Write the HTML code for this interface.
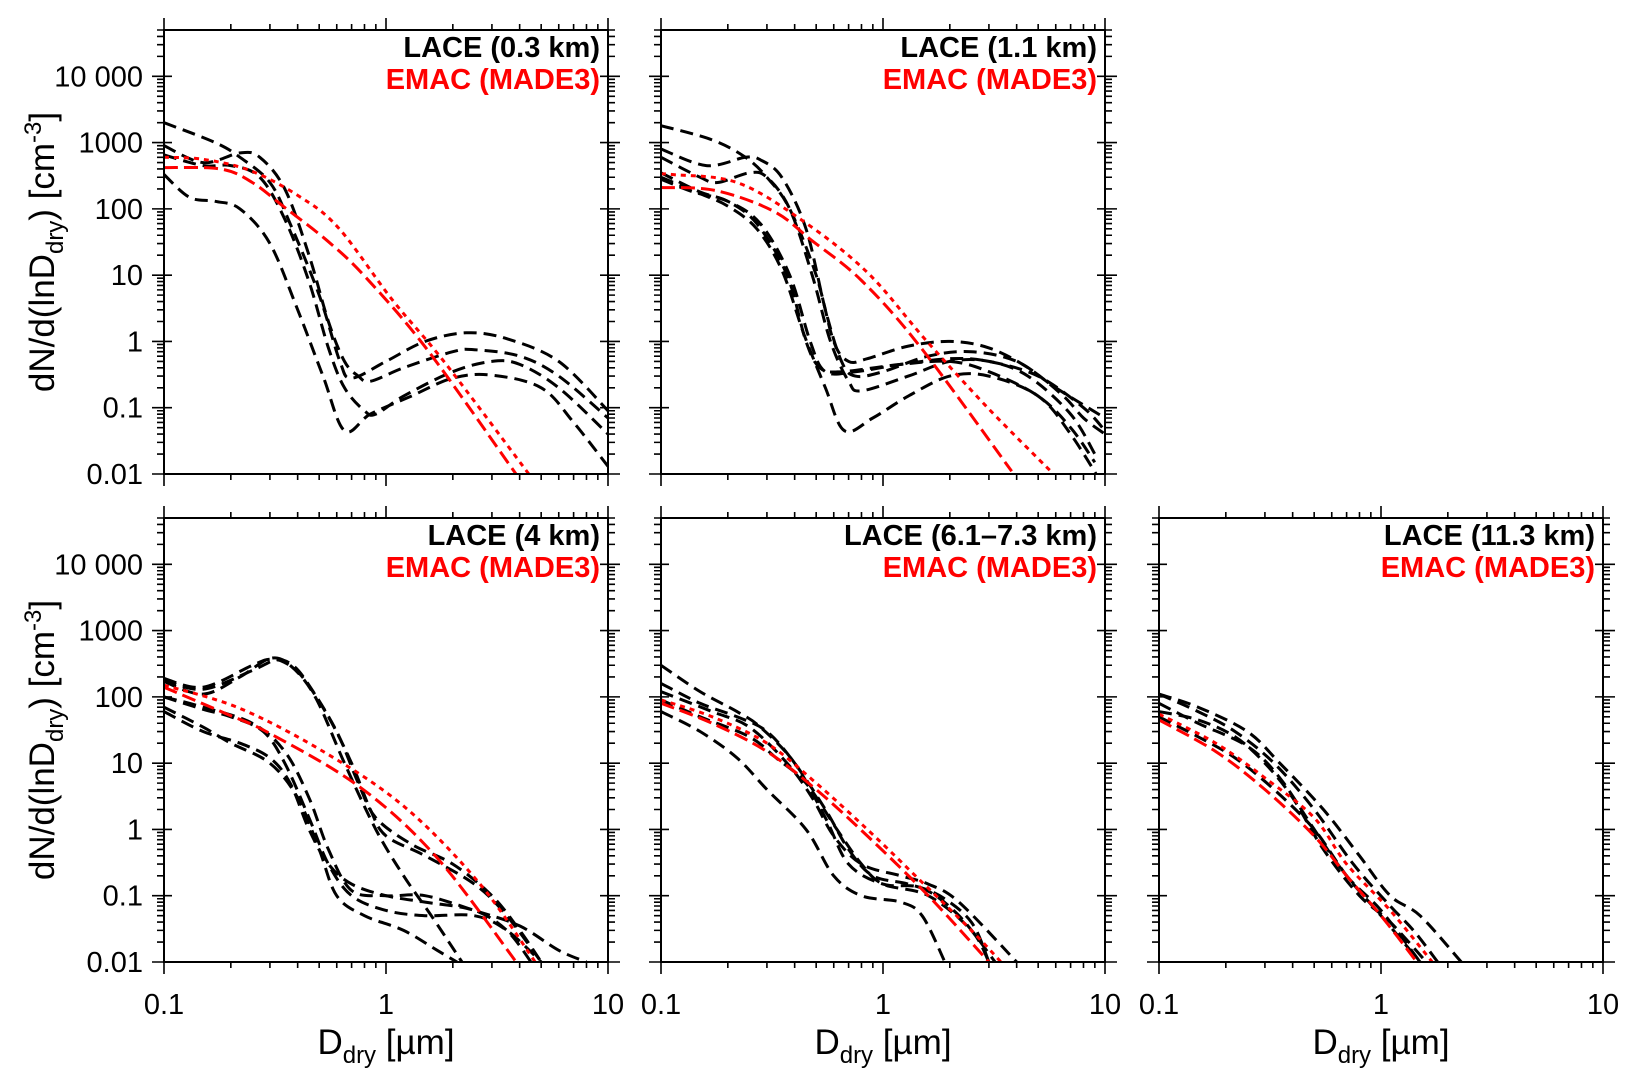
<!DOCTYPE html>
<html><head><meta charset="utf-8"><style>
html,body{margin:0;padding:0;background:#fff;}
svg{display:block;font-family:"Liberation Sans",Arial,sans-serif;}
</style></head><body>
<svg id="chart" width="1637" height="1081" viewBox="0 0 1637 1081" xmlns="http://www.w3.org/2000/svg"></svg>
<script>
// ---- data (diameter in µm, dN/dlnD in cm^-3) ----
const xTicks = [0.1, 1, 10];
const xTickLabels = ["0.1", "1", "10"];
const yTicks = [0.01, 0.1, 1, 10, 100, 1000, 10000];
const yTickLabels = ["0.01", "0.1", "1", "10", "100", "1000", "10 000"];
const panelTitles = ["LACE (0.3 km)", "LACE (1.1 km)", "LACE (4 km)", "LACE (6.1\u20137.3 km)", "LACE (11.3 km)"];

// Panel 1 (0.3 km)
const p1D = [[0.1,0.17,0.22,0.3,0.37,0.5,0.62,0.7,1,1.5,2.3,3.5,6,10],
             [0.1,0.15,0.22,0.27,0.35,0.45,0.55,0.65,0.75,0.85,1.2,2,2.5,4,6,10],
             [0.1,0.15,0.2,0.27,0.35,0.45,0.55,0.65,0.8,0.9,1.2,2,3,4,6,10],
             [0.1,0.13,0.17,0.22,0.3,0.4,0.52,0.65,0.85,1.3,2,3,5,7,10]];
const p1N = [[2000,1000,600,250,60,5,0.5,0.28,0.5,1.0,1.35,1.1,0.5,0.09],
             [900,500,700,600,200,20,2,0.5,0.3,0.25,0.4,0.7,0.75,0.6,0.3,0.07],
             [650,450,450,300,70,8,0.8,0.2,0.09,0.08,0.15,0.35,0.5,0.45,0.2,0.04],
             [330,150,130,100,30,3,0.3,0.045,0.08,0.15,0.28,0.31,0.2,0.06,0.013]];
const p1RedDotD = [0.1,0.15,0.244,0.4,0.61,1.07,1.85,4.4];
const p1RedDotN = [600,560,380,160,52,4.2,0.47,0.01];
const p1RedDashD = [0.1,0.18,0.25,0.35,0.55,0.81,1.54,3.85];
const p1RedDashN = [420,400,250,105,32,9.3,0.74,0.01];

// Panel 2 (1.1 km)
const p2D = [[0.1,0.17,0.24,0.3,0.38,0.5,0.6,0.7,0.85,1.3,2,3,4.5,6.5,8,10],
             [0.1,0.16,0.24,0.28,0.35,0.45,0.55,0.65,0.75,1,1.6,2.5,4,6,10],
             [0.1,0.15,0.18,0.25,0.3,0.38,0.48,0.58,0.7,0.8,1.3,2,3,4.5,7,9],
             [0.1,0.15,0.2,0.27,0.37,0.45,0.52,0.65,1.2,2,3,5,7,9],
             [0.1,0.15,0.2,0.27,0.35,0.44,0.55,0.67,0.9,1.3,2,3,5,7,10],
             [0.1,0.14,0.2,0.28,0.38,0.47,0.55,0.75,1.2,2,3,5,8,10]];
const p2N = [[1800,1100,600,300,100,10,1,0.5,0.55,0.85,1.0,0.8,0.4,0.15,0.07,0.04],
             [800,450,600,550,300,50,3,0.5,0.3,0.35,0.6,0.7,0.5,0.2,0.07],
             [600,300,250,350,300,100,10,1,0.25,0.18,0.3,0.5,0.5,0.3,0.08,0.02],
             [350,180,130,60,10,1,0.4,0.35,0.45,0.5,0.35,0.15,0.05,0.015],
             [300,170,110,50,12,1.3,0.2,0.045,0.07,0.15,0.3,0.3,0.15,0.04,0.006],
             [280,180,130,60,10,1,0.35,0.35,0.45,0.55,0.5,0.3,0.1,0.045]];
const p2RedDotD = [0.1,0.112,0.22,0.43,0.85,1.54,2.96,5.7];
const p2RedDotN = [335,330,250,68,11,1.1,0.1,0.011];
const p2RedDashD = [0.1,0.175,0.32,0.48,0.8,1.48,3.8];
const p2RedDashN = [210,190,93,33,8.3,0.81,0.011];

// Panel 3 (4 km)
const p3D = [[0.1,0.15,0.25,0.3,0.35,0.42,0.55,0.7,0.85,1,1.5,2.5,3.5,5],
             [0.1,0.15,0.22,0.3,0.37,0.48,0.65,0.9,1.2,1.6,2.2],
             [0.1,0.15,0.25,0.32,0.38,0.45,0.6,0.75,0.9,1.3,2,3,4,5],
             [0.1,0.15,0.25,0.35,0.45,0.55,0.7,1,1.5,2.5,4,6,8],
             [0.1,0.15,0.2,0.28,0.35,0.45,0.55,0.7,1,1.5,2.5,3.5,5],
             [0.1,0.15,0.2,0.3,0.4,0.5,0.6,0.8,1.2,1.7,2.2],
             [0.1,0.15,0.22,0.3,0.37,0.45,0.55,0.7,1,1.5,2.5,3.5,4.5]];
const p3N = [[190,140,300,370,330,200,50,10,2,0.8,0.4,0.15,0.05,0.01],
             [170,110,200,380,300,100,10,1,0.2,0.05,0.01],
             [180,130,250,360,300,150,30,5,1.5,0.6,0.3,0.1,0.03,0.01],
             [100,70,40,15,3,0.5,0.12,0.1,0.1,0.06,0.035,0.015,0.01],
             [100,65,50,30,10,1.5,0.3,0.1,0.06,0.05,0.05,0.03,0.01],
             [70,35,20,10,3,0.5,0.1,0.05,0.03,0.015,0.009],
             [60,30,20,12,5,1,0.3,0.15,0.1,0.08,0.06,0.03,0.01]];
const p3RedDotD = [0.1,0.22,0.54,1.23,2.63,4.7];
const p3RedDotN = [150,67,14,2.1,0.155,0.01];
const p3RedDashD = [0.1,0.19,0.3,0.76,1.69,3.86];
const p3RedDashN = [140,56,28,4.4,0.38,0.01];

// Panel 4 (6.1–7.3 km)
const p4D = [[0.1,0.15,0.22,0.28,0.4,0.55,0.7,1,1.5,2.2,3.2],
             [0.1,0.15,0.22,0.3,0.4,0.55,0.7,0.9,1.3,1.8,2.5,3],
             [0.1,0.17,0.25,0.37,0.48,0.6,0.8,1.2,1.6,2.2,4],
             [0.1,0.15,0.25,0.33,0.45,0.62,0.8,1,1.6,2.5,3],
             [0.1,0.15,0.22,0.3,0.45,0.6,0.8,1.2,1.5,1.9]];
const p4N = [[300,120,60,35,10,1.5,0.3,0.15,0.13,0.05,0.01],
             [160,80,50,30,10,2,0.5,0.2,0.15,0.1,0.04,0.01],
             [120,60,35,10,3,0.8,0.3,0.2,0.15,0.08,0.01],
             [90,50,25,12,5,1,0.3,0.15,0.1,0.03,0.01],
             [60,30,12,4,1,0.2,0.1,0.08,0.05,0.01]];
const p4RedDotD = [0.1,0.17,0.3,0.5,0.85,1.4,2.5,3.4];
const p4RedDotN = [90,50,20,5,1,0.2,0.03,0.01];
const p4RedDashD = [0.1,0.17,0.3,0.5,0.85,1.6,3.0];
const p4RedDashN = [80,40,15,4,0.8,0.1,0.01];

// Panel 5 (11.3 km)
const p5D = [[0.1,0.15,0.25,0.35,0.55,0.8,1.1,1.5,2.3],
             [0.1,0.15,0.22,0.33,0.5,0.75,1.1,1.4,1.8],
             [0.1,0.15,0.25,0.35,0.5,0.7,1,1.5],
             [0.1,0.15,0.22,0.3,0.4,0.55,0.8,1.1,1.6],
             [0.1,0.15,0.22,0.33,0.5,0.7,1,1.5]];
const p5N = [[110,70,30,10,2,0.4,0.1,0.05,0.01],
             [110,60,30,10,2,0.3,0.07,0.03,0.01],
             [80,40,18,6,1,0.2,0.06,0.01],
             [60,45,25,10,3,0.5,0.1,0.04,0.01],
             [50,25,12,4,1,0.2,0.05,0.01]];
const p5RedDotD = [0.1,0.18,0.3,0.5,0.7,1.1,1.7];
const p5RedDotN = [55,20,6,1.5,0.3,0.06,0.01];
const p5RedDashD = [0.1,0.18,0.3,0.5,0.7,1,1.45];
const p5RedDashN = [45,15,4,0.8,0.2,0.05,0.01];

// ---- layout ----
const NS = "http://www.w3.org/2000/svg";
const svg = document.getElementById("chart");
const PW = 444, PH = 444;
const panels = [
  {x:164, y:30, D:p1D, N:p1N, rdD:p1RedDotD, rdN:p1RedDotN, rsD:p1RedDashD, rsN:p1RedDashN, ylab:true, xlab:false},
  {x:661, y:30, D:p2D, N:p2N, rdD:p2RedDotD, rdN:p2RedDotN, rsD:p2RedDashD, rsN:p2RedDashN, ylab:false, xlab:false},
  {x:164, y:518, D:p3D, N:p3N, rdD:p3RedDotD, rdN:p3RedDotN, rsD:p3RedDashD, rsN:p3RedDashN, ylab:true, xlab:true},
  {x:661, y:518, D:p4D, N:p4N, rdD:p4RedDotD, rdN:p4RedDotN, rsD:p4RedDashD, rsN:p4RedDashN, ylab:false, xlab:true},
  {x:1159, y:518, D:p5D, N:p5N, rdD:p5RedDotD, rdN:p5RedDotN, rsD:p5RedDashD, rsN:p5RedDashN, ylab:false, xlab:true}
];
const YMIN = -2, YMAX = Math.log10(50000);

function el(tag, attrs, parent){ const e = document.createElementNS(NS, tag); for (const k in attrs) e.setAttribute(k, attrs[k]); (parent||svg).appendChild(e); return e; }
function xs(p, d){ return p.x + (Math.log10(d) + 1) / 2 * PW; }
function ys(p, n){ return p.y + PH - (Math.log10(n) - YMIN) / (YMAX - YMIN) * PH; }

function smoothPath(pts){
  let d = "M" + pts[0][0].toFixed(1) + "," + pts[0][1].toFixed(1);
  for (let i = 0; i < pts.length - 1; i++){
    const p0 = pts[Math.max(0,i-1)], p1 = pts[i], p2 = pts[i+1], p3 = pts[Math.min(pts.length-1,i+2)];
    const c1x = p1[0] + (p2[0]-p0[0])/6, c1y = p1[1] + (p2[1]-p0[1])/6;
    const c2x = p2[0] - (p3[0]-p1[0])/6, c2y = p2[1] - (p3[1]-p1[1])/6;
    d += " C" + c1x.toFixed(1)+","+c1y.toFixed(1)+" "+c2x.toFixed(1)+","+c2y.toFixed(1)+" "+p2[0].toFixed(1)+","+p2[1].toFixed(1);
  }
  return d;
}

const defs = el("defs", {});
panels.forEach((p, pi) => {
  const g = el("g", {});
  
  
  const cp = el("clipPath", {id:"clip"+pi}, defs);
  el("rect", {x:p.x, y:p.y, width:PW, height:PH}, cp);
  const plot = el("g", {"clip-path":"url(#clip"+pi+")"}, g);

  p.D.forEach((dArr, ci) => {
    const pts = dArr.map((d, j) => [xs(p, d), ys(p, p.N[ci][j])]);
    const path = el("path", {d: smoothPath(pts), fill:"none", stroke:"#000", "stroke-width":3, "stroke-dasharray":"13 7"}, plot);
    
    
  });
  const rd = el("path", {d: smoothPath(p.rdD.map((d,j)=>[xs(p,d), ys(p,p.rdN[j])])), fill:"none", stroke:"#ff0000", "stroke-width":3, "stroke-dasharray":"5 5"}, plot);
  
  
  const rs = el("path", {d: smoothPath(p.rsD.map((d,j)=>[xs(p,d), ys(p,p.rsN[j])])), fill:"none", stroke:"#ff0000", "stroke-width":3, "stroke-dasharray":"14 6"}, plot);
  
  

  const fr = el("rect", {x:p.x, y:p.y, width:PW, height:PH, fill:"none", stroke:"#000", "stroke-width":2}, g);
  
  

  let tk = "";
  for (let e = -1; e <= 0; e++){
    for (let m = 1; m <= 9; m++){
      const v = m * Math.pow(10, e); const x = xs(p, v);
      const L = m === 1 ? 12 : 6;
      tk += "M"+x+","+(p.y+PH)+"v"+L+"M"+x+","+p.y+"v"+(-L);
    }
  }
  const x10 = xs(p, 10); tk += "M"+x10+","+(p.y+PH)+"v12M"+x10+","+p.y+"v-12";
  for (let e = -2; e <= 4; e++){
    for (let m = 1; m <= 9; m++){
      const v = m * Math.pow(10, e); if (v > 50000) break;
      const y = ys(p, v); const L = m === 1 ? 12 : 7;
      tk += "M"+p.x+","+y+"h"+(-L)+"M"+(p.x+PW)+","+y+"h"+L;
      if (m === 1) tk += "M"+p.x+","+y+"h8M"+(p.x+PW)+","+y+"h-8";
    }
  }
  const tp = el("path", {d:tk, stroke:"#000", "stroke-width":1.6, fill:"none"}, g);
  
  

  if (p.ylab){
    yTicks.forEach((v, i) => {
      const t = el("text", {x:p.x-21, y:ys(p, v)+10, "text-anchor":"end", "font-size":29}, g);
      t.textContent = yTickLabels[i];
      
      
    });
    const yt = el("text", {transform:"translate(54,"+(p.y+PH/2)+") rotate(-90)", "text-anchor":"middle", "font-size":35}, g);
    yt.innerHTML = 'dN/d(lnD<tspan font-size="24" dy="9">dry</tspan><tspan dy="-9">) [cm</tspan><tspan font-size="24" dy="-13">-3</tspan><tspan dy="13">]</tspan>';
    
    
  }
  if (p.xlab){
    xTicks.forEach((v, i) => {
      const t = el("text", {x:xs(p, v), y:1014, "text-anchor":"middle", "font-size":29}, g);
      t.textContent = xTickLabels[i];
      
      
    });
    const xt = el("text", {x:p.x+PW/2, y:1054, "text-anchor":"middle", "font-size":35}, g);
    xt.innerHTML = 'D<tspan font-size="24" dy="9">dry</tspan><tspan dy="-9"> [\u00b5m]</tspan>';
    
    
  }
  const l1 = el("text", {x:p.x+PW-8, y:p.y+27, "text-anchor":"end", "font-size":29, "font-weight":"bold", fill:"#000"}, g);
  l1.textContent = panelTitles[pi];
  
  
  const l2 = el("text", {x:p.x+PW-8, y:p.y+59, "text-anchor":"end", "font-size":29, "font-weight":"bold", fill:"#ff0000"}, g);
  l2.textContent = "EMAC (MADE3)";
  
  
});
</script>
</body></html>
